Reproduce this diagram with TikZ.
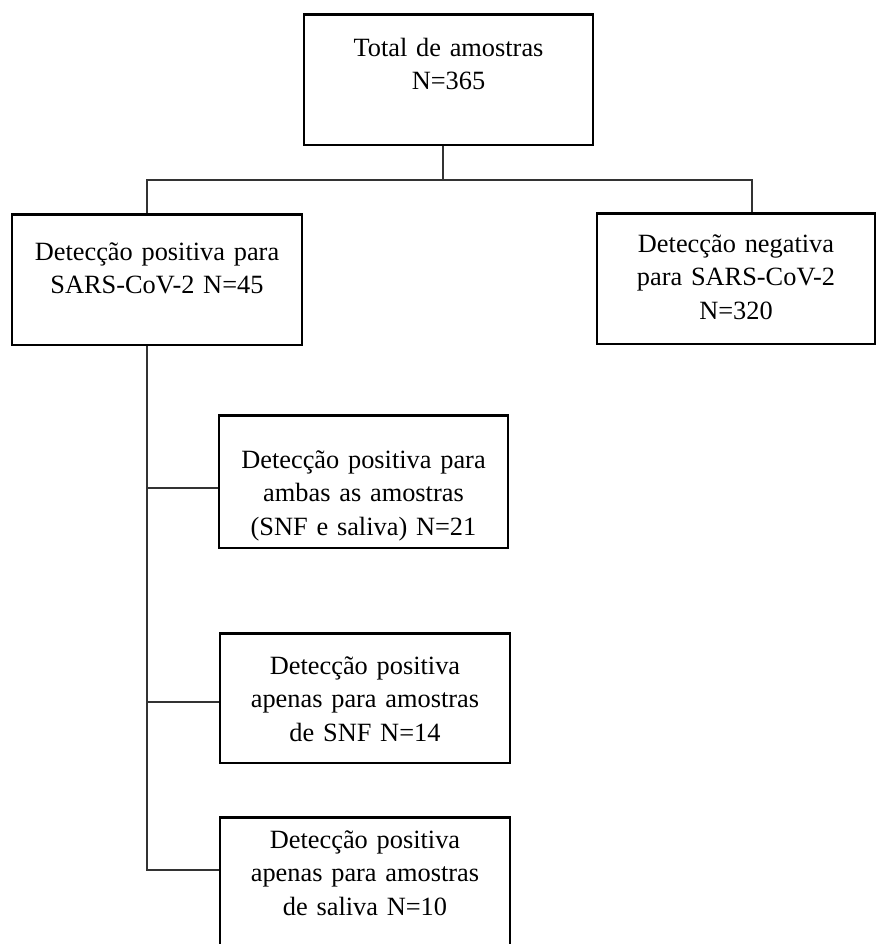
\documentclass[tikz,border=0pt]{standalone}
\usepackage{fontspec}
\setmainfont{Liberation Serif}
\usepackage{tikz}

\begin{document}
\begin{tikzpicture}[
  x=0.02cm, y=-0.02cm,
  cbox/.style={draw, line width=0.05cm, anchor=north, align=center, inner xsep=0pt, inner ysep=0pt, font=\fontsize{15pt}{19pt}\selectfont},
  link/.style={draw=black!80, line width=0.026cm}
]
  \useasboundingbox (0,0) rectangle (876,944);
  \node[cbox, text width=5.78cm, text height=0.84cm, text depth=1.78cm] (total) at (448.5,13) {Total de amostras\\N=365};
  \node[cbox, text width=5.8cm, text height=0.92cm, text depth=1.7cm] (pos) at (157,213) {Detecção positiva para\\SARS-CoV-2 N=45};
  \node[cbox, text width=5.56cm, text height=0.78cm, text depth=1.84cm] (neg) at (736,212) {Detecção negativa\\para SARS-CoV-2\\N=320};
  \node[cbox, text width=5.78cm, text height=1.06cm, text depth=1.6cm] (ambas) at (363.5,414) {Detecção positiva para\\ambas as amostras\\(SNF e saliva) N=21};
  \node[cbox, text width=5.8cm, text height=0.82cm, text depth=1.78cm] (snf) at (365,632) {Detecção positiva\\apenas para amostras\\de SNF N=14};
  \node[cbox, text width=5.8cm, text height=0.62cm, text depth=2.1cm] (saliva) at (365,816) {Detecção positiva\\apenas para amostras\\de saliva N=10};

  % split from the total
  \coordinate (busM) at (443,180);
  \coordinate (busL) at (147,180);
  \coordinate (busR) at (752,180);
  \draw[link] (busM |- total.south) -- (busM);
  \draw[link] (busL |- pos.north) -- (busL) -- (busR) -- (busR |- neg.north);

  % positive branch
  \coordinate (j1) at (147,488);
  \coordinate (j2) at (147,702);
  \coordinate (j3) at (147,870);
  \draw[link] (j3 |- pos.south) -- (j3) -- (j3 -| saliva.west);
  \draw[link] (j1) -- (j1 -| ambas.west);
  \draw[link] (j2) -- (j2 -| snf.west);
\end{tikzpicture}
\end{document}
